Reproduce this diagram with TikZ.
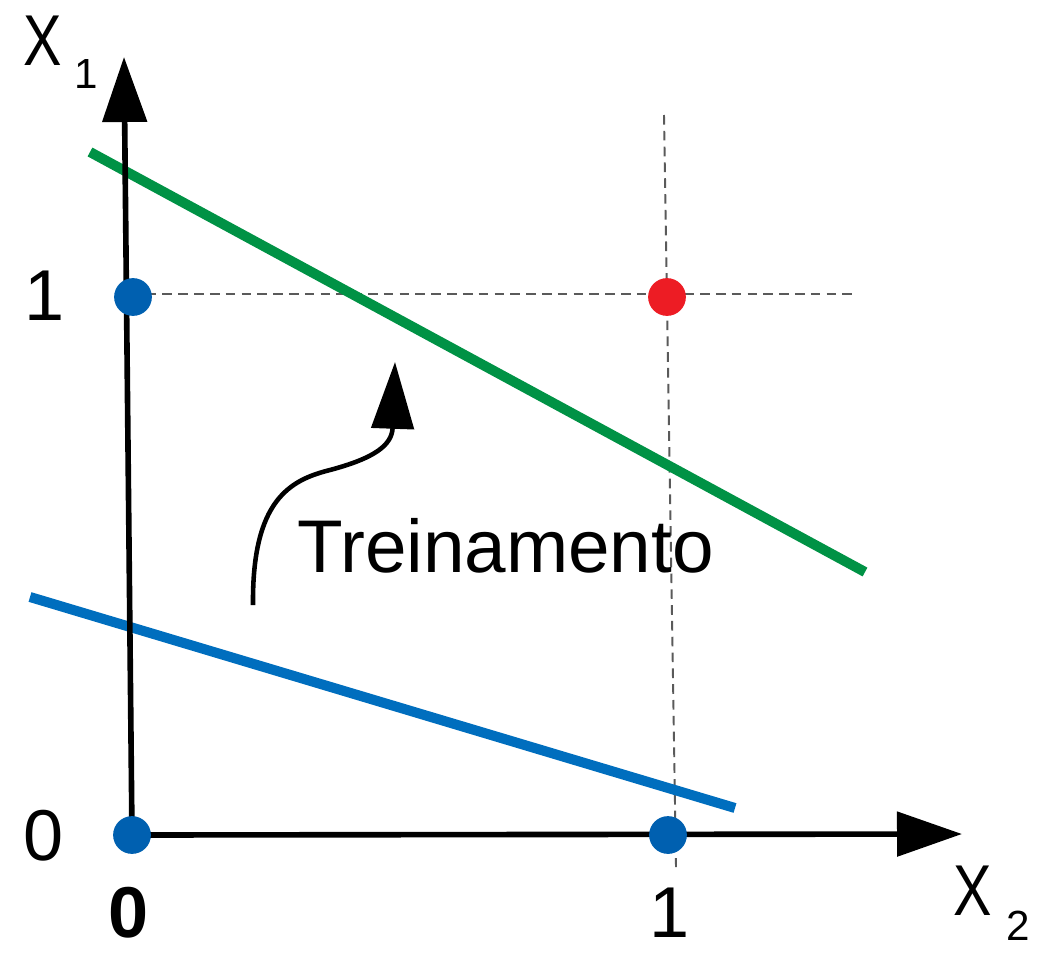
\documentclass[tikz,border=0pt]{standalone}
\usepackage{fontspec}
\setmainfont{Liberation Sans}
\usetikzlibrary{arrows.meta}
\definecolor{dotblue}{RGB}{0,96,176}
\definecolor{lineblue}{RGB}{0,110,190}
\definecolor{linegreen}{RGB}{0,146,69}
\definecolor{dotred}{RGB}{237,28,36}
\definecolor{dashgray}{RGB}{90,90,90}
\begin{document}
\begin{tikzpicture}[x=0.02cm,y=-0.02cm,
  axis/.style={line width=3.2pt,-{Triangle[length=37pt,width=25pt]}},
  pt/.style={circle,inner sep=0pt,minimum size=21.5pt},
  guide/.style={dashgray,line width=1.1pt,dash pattern=on 5.5pt off 3.5pt},
  sep/.style={line width=5.7pt},
  lbl/.style={inner sep=0pt,font=\fontsize{41}{41}\selectfont},
  sub/.style={inner sep=0pt,font=\fontsize{24}{24}\selectfont}]
\useasboundingbox (0,0) rectangle (1041,957);
% guides
\coordinate (hl) at (115,294);
\coordinate (hr) at (857,294);
\coordinate (vt) at (664,115);
\coordinate (vb) at (676,867);
\draw[guide] (hl) -- (hr);
\draw[guide] (vt) -- (vb);
% separator lines
\coordinate (g1) at (90,152);
\coordinate (g2) at (865,572);
\coordinate (b1) at (30,597);
\coordinate (b2) at (735,808);
\draw[sep,linegreen] (g1) -- (g2);
\draw[sep,lineblue] (b1) -- (b2);
% axes
\coordinate (ytip) at (124,57);
\coordinate (xtip) at (962,834);
\node[pt] (o) at (132,835) {};
\draw[axis] (o.center) -- (ytip);
\draw[axis] (o.center) -- (xtip);
% points
\node[pt,fill=dotblue] (p00) at (132,835) {};
\node[pt,fill=dotblue] (p01) at (133,297) {};
\node[pt,fill=dotblue] (p10) at (668,835) {};
\node[pt,fill=dotred] (p11) at (667,297) {};
% curved arrow
\coordinate (cs) at (253,605);
\coordinate (ce) at (395,362);
\draw[line width=2.6pt,-{Triangle[length=38pt,width=24pt]}]
  (cs) .. controls (252,500) and (290,480) .. (330,470)
       .. controls (375,458) and (392,445) .. (ce);
\node[lbl,anchor=base west,font=\fontsize{42.5}{42.5}\selectfont] (tr) at (297,572) {Treinamento};
% labels
\node[lbl,anchor=base west] (x1) at (23,65) {\scalebox{0.8}[1]{X}};
\node[sub,anchor=base west] (x1s) at (74,88) {1};
\node[lbl,anchor=base west] (x2) at (953,915) {\scalebox{0.8}[1]{X}};
\node[sub,anchor=base west] (x2s) at (1006,940) {2};
\node[lbl,anchor=base] (l1) at (45,320) {1};
\node[lbl,anchor=base] (l0) at (44,860) {0};
\node[lbl,anchor=base,font=\fontsize{41}{41}\selectfont\bfseries] (b0) at (129,937) {0};
\node[lbl,anchor=base] (b1l) at (670,937) {1};
\end{tikzpicture}
\end{document}
